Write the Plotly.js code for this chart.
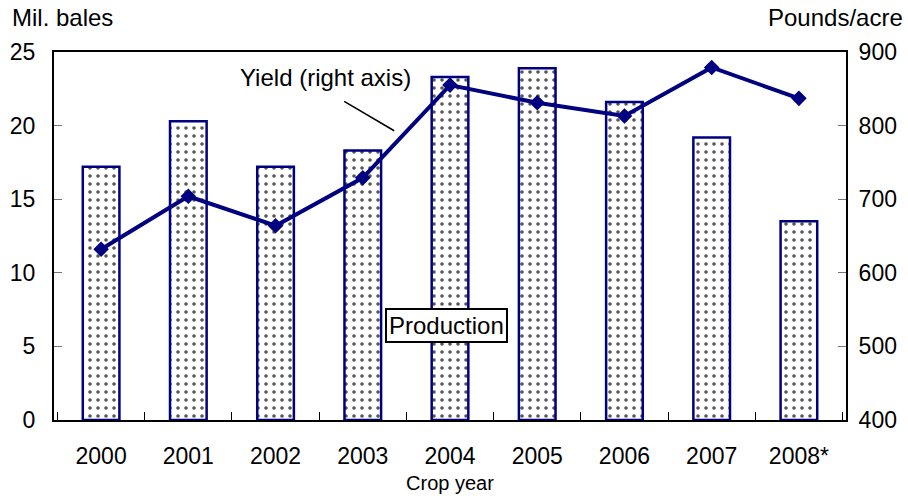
<!DOCTYPE html>
<html>
<head>
<meta charset="utf-8">
<script src="https://cdn.plot.ly/plotly-3.0.1.min.js"></script>
<style>html,body{margin:0;padding:0;background:#fff;}#chart{width:908px;height:496px;}</style>
</head>
<body>
<div id="chart"></div>
<script>
const years = ["2000","2001","2002","2003","2004","2005","2006","2007","2008*"];
const production = [17.2, 20.3, 17.2, 18.3, 23.3, 23.9, 21.6, 19.2, 13.5];
const yieldVals = [632, 704, 664, 729, 855, 831, 813, 879, 837];
const leftTicks = [0, 5, 10, 15, 20, 25];
const rightTicks = [400, 500, 600, 700, 800, 900];

const navy = "#000080";
const font = "Liberation Sans, Arial, sans-serif";

const traces = [
  {
    type: "bar", x: years, y: production, yaxis: "y", width: 0.42,
    marker: {color: "#ffffff", line: {color: navy, width: 2.5},
      pattern: {shape: ".", fgcolor: "#555555", bgcolor: "#ffffff", size: 8, solidity: 0.16}},
    hoverinfo: "skip", showlegend: false
  },
  {
    type: "scatter", mode: "lines+markers", x: years, y: yieldVals, yaxis: "y2",
    line: {color: navy, width: 4},
    marker: {symbol: "diamond", size: 12, color: navy},
    showlegend: false
  }
];

const layout = {
  width: 908, height: 496,
  margin: {l: 54, r: 62, t: 52, b: 76},
  paper_bgcolor: "#fff", plot_bgcolor: "#fff",
  font: {family: font, size: 24, color: "#000"},
  showlegend: false,
  xaxis: {
    type: "category", showline: true, linecolor: "#000", linewidth: 2, mirror: true,
    ticks: "inside", tickson: "boundaries", ticklen: 8, tickcolor: "#000", tickwidth: 1,
    tickfont: {size: 23, family: font}, showgrid: false, ticklabelstandoff: 14,
    title: {text: "Crop year", font: {size: 20, family: font}, standoff: 8}
  },
  yaxis: {
    range: [0, 25], tickvals: leftTicks, showline: true, linecolor: "#000", linewidth: 2,
    ticks: "inside", ticklen: 8, tickcolor: "#777", tickwidth: 1, showgrid: false,
    zeroline: false, tickfont: {size: 23, family: font}, ticklabelstandoff: 12
  },
  yaxis2: {
    range: [400, 900], tickvals: rightTicks, overlaying: "y", side: "right",
    showline: true, linecolor: "#000", linewidth: 2,
    ticks: "inside", ticklen: 8, tickcolor: "#777", tickwidth: 1, showgrid: false,
    zeroline: false, tickfont: {size: 23, family: font}, ticklabelstandoff: 6
  },
  annotations: [
    {text: "Mil. bales", xref: "paper", yref: "paper", x: 0, xshift: -44, y: 1.0, yshift: 19,
     xanchor: "left", yanchor: "bottom", showarrow: false, font: {size: 24, family: font}},
    {text: "Pounds/acre", xref: "paper", yref: "paper", x: 1.0, xshift: 59, y: 1.0, yshift: 19,
     xanchor: "right", yanchor: "bottom", showarrow: false, font: {size: 24, family: font}},
    {text: "Yield (right axis)", xref: "x", yref: "y2", x: 2.57, y: 866,
     xanchor: "center", yanchor: "middle", showarrow: false, font: {size: 24, family: font}},
    {text: "", xref: "x", yref: "y2", x: 3.36, y: 793, ax: 2.77, ay: 834, axref: "x", ayref: "y2",
     showarrow: true, arrowhead: 0, arrowwidth: 1.5, arrowcolor: "#000"},
    {text: "Production", xref: "x", yref: "y", x: 3.96, y: 6.4,
     xanchor: "center", yanchor: "middle", showarrow: false,
     bgcolor: "#fff", bordercolor: "#000", borderwidth: 2, borderpad: 2,
     font: {size: 24, family: font}}
  ]
};

Plotly.newPlot("chart", traces, layout, {displayModeBar: false, staticPlot: true});
</script>
</body>
</html>
